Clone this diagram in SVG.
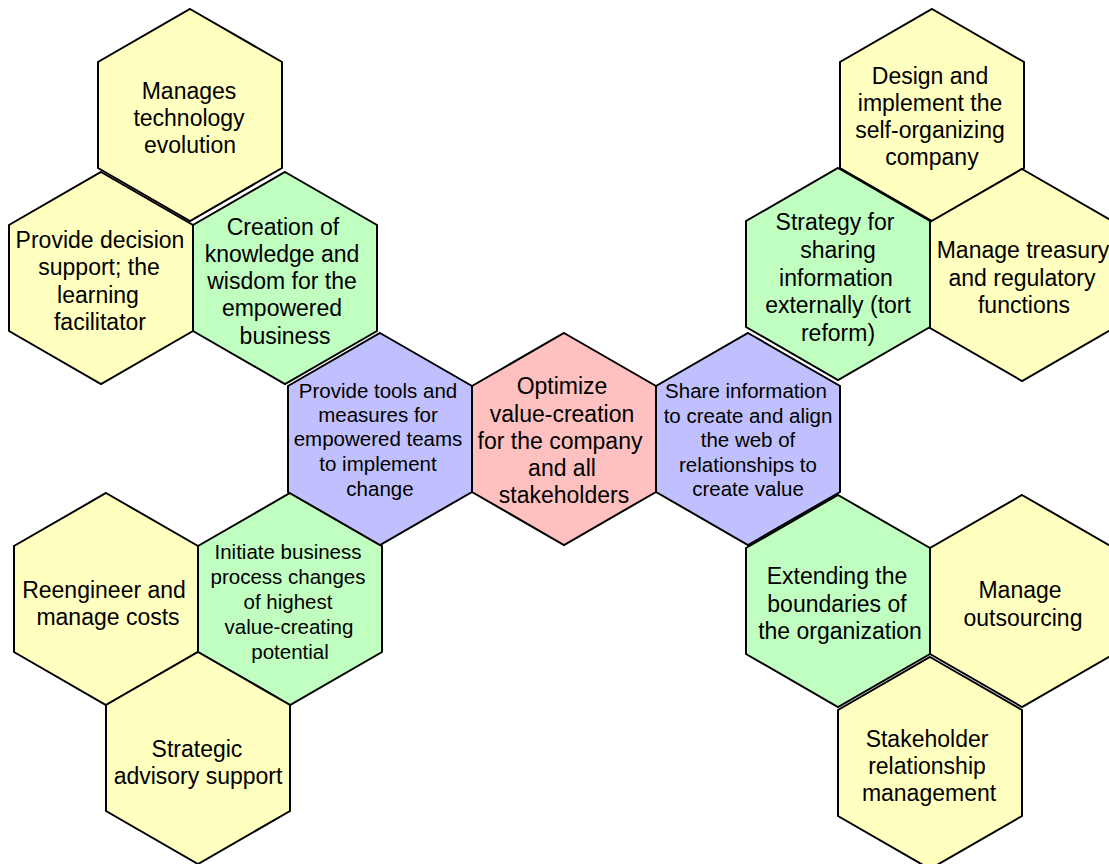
<svg xmlns="http://www.w3.org/2000/svg" width="1109" height="864" viewBox="0 0 1109 864">
<style>
.hex{stroke:#000;stroke-width:2;stroke-linejoin:miter}
.y{fill:#FFFFC0}.g{fill:#C0FFC0}.b{fill:#C0C0FF}.p{fill:#FFC0C0}
text{font-family:"Liberation Sans",Arial,sans-serif;text-anchor:middle;fill:#000}
.big{font-size:23px}.sm{font-size:20.5px}
</style>
<defs>
<polygon id="hx" points="0,-106 92,-53 92,53 0,106 -92,53 -92,-53"/>
</defs>
<rect width="1109" height="864" fill="#fff"/>
<g id="connectors"/>
<g id="n-manages">
<use href="#hx" x="190" y="115" class="hex y"/>
<text class="big"><tspan x="189" y="99">Manages</tspan><tspan x="189" y="126">technology</tspan><tspan x="190" y="153">evolution</tspan></text>
</g>
<g id="n-decision">
<use href="#hx" x="101" y="278" class="hex y"/>
<text class="big"><tspan x="100" y="248">Provide decision</tspan><tspan x="99" y="275">support; the</tspan><tspan x="98" y="303">learning</tspan><tspan x="100" y="330">facilitator</tspan></text>
</g>
<g id="n-creation">
<use href="#hx" x="285" y="278" class="hex g"/>
<text class="big"><tspan x="283" y="235">Creation of</tspan><tspan x="282" y="262">knowledge and</tspan><tspan x="282" y="289">wisdom for the</tspan><tspan x="282" y="316">empowered</tspan><tspan x="285" y="344">business</tspan></text>
</g>
<g id="n-reengineer">
<use href="#hx" x="106" y="599" class="hex y"/>
<text class="big"><tspan x="104" y="598">Reengineer and</tspan><tspan x="108" y="625">manage costs</tspan></text>
</g>
<g id="n-initiate">
<use href="#hx" x="290" y="599" class="hex g"/>
<text class="sm"><tspan x="288" y="559">Initiate business</tspan><tspan x="288" y="584">process changes</tspan><tspan x="288" y="609">of highest</tspan><tspan x="289" y="634">value-creating</tspan><tspan x="290" y="659">potential</tspan></text>
</g>
<g id="n-strategic">
<use href="#hx" x="198" y="758" class="hex y"/>
<text class="big"><tspan x="197" y="757">Strategic</tspan><tspan x="198" y="784">advisory support</tspan></text>
</g>
<g id="n-design">
<use href="#hx" x="932" y="115" class="hex y"/>
<text class="big"><tspan x="930" y="84">Design and</tspan><tspan x="930" y="111">implement the</tspan><tspan x="930" y="138">self-organizing</tspan><tspan x="932" y="165">company</tspan></text>
</g>
<g id="n-treasury">
<use href="#hx" x="1022" y="275" class="hex y"/>
<text class="big"><tspan x="1023" y="258">Manage treasury</tspan><tspan x="1022" y="286">and regulatory</tspan><tspan x="1024" y="313">functions</tspan></text>
</g>
<g id="n-strategy">
<use href="#hx" x="838" y="274" class="hex g"/>
<text class="big"><tspan x="835" y="230">Strategy for</tspan><tspan x="838" y="258">sharing</tspan><tspan x="836" y="286">information</tspan><tspan x="838" y="313">externally (tort</tspan><tspan x="838" y="341">reform)</tspan></text>
</g>
<g id="n-outsourcing">
<use href="#hx" x="1022" y="601" class="hex y"/>
<text class="big"><tspan x="1020" y="598">Manage</tspan><tspan x="1023" y="626">outsourcing</tspan></text>
</g>
<g id="n-stakeholder">
<use href="#hx" x="930" y="763" class="hex y"/>
<text class="big"><tspan x="927" y="747">Stakeholder</tspan><tspan x="927" y="774">relationship</tspan><tspan x="929" y="801">management</tspan></text>
</g>
<g id="n-extending">
<use href="#hx" x="838" y="601" class="hex g"/>
<text class="big"><tspan x="837" y="584">Extending the</tspan><tspan x="837" y="612">boundaries of</tspan><tspan x="840" y="639">the organization</tspan></text>
</g>
<g id="n-tools">
<use href="#hx" x="380" y="439" class="hex b"/>
<text class="sm"><tspan x="378" y="398">Provide tools and</tspan><tspan x="378" y="422">measures for</tspan><tspan x="378" y="446">empowered teams</tspan><tspan x="378" y="471">to implement</tspan><tspan x="380" y="496">change</tspan></text>
</g>
<g id="n-share">
<use href="#hx" x="748" y="439" class="hex b"/>
<text class="sm"><tspan x="746" y="398">Share information</tspan><tspan x="748" y="423">to create and align</tspan><tspan x="748" y="447">the web of</tspan><tspan x="748" y="472">relationships to</tspan><tspan x="748" y="496">create value</tspan></text>
</g>
<g id="n-center">
<use href="#hx" x="564" y="439" class="hex p"/>
<text class="big"><tspan x="562" y="394">Optimize</tspan><tspan x="562" y="422">value-creation</tspan><tspan x="560" y="449">for the company</tspan><tspan x="562" y="476">and all</tspan><tspan x="564" y="503">stakeholders</tspan></text>
</g>
</svg>
